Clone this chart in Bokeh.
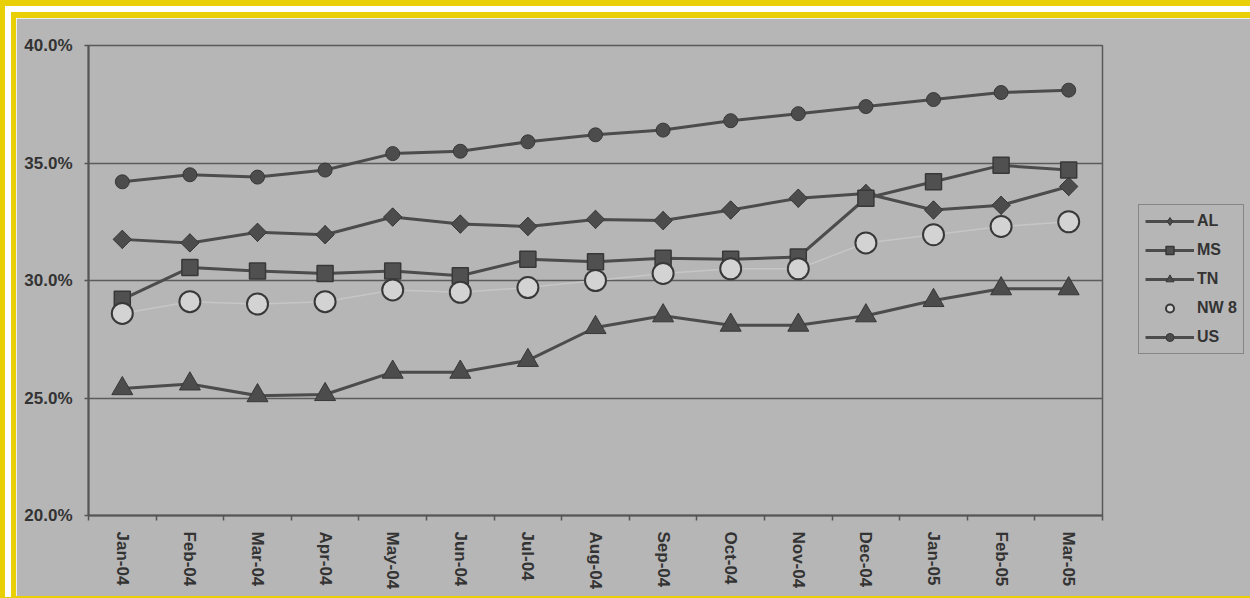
import math
from bokeh.plotting import figure
from bokeh.models import Range1d, FixedTicker, PrintfTickFormatter, Legend, LegendItem
from bokeh.embed import file_html
from bokeh.resources import INLINE

months = ["Jan-04", "Feb-04", "Mar-04", "Apr-04", "May-04", "Jun-04", "Jul-04", "Aug-04",
          "Sep-04", "Oct-04", "Nov-04", "Dec-04", "Jan-05", "Feb-05", "Mar-05"]
al = [31.75, 31.6, 32.05, 31.95, 32.7, 32.4, 32.3, 32.6, 32.55, 33.0, 33.5, 33.7, 33.0, 33.2, 34.0]
ms = [29.2, 30.55, 30.4, 30.3, 30.4, 30.2, 30.9, 30.8, 30.95, 30.9, 31.0, 33.5, 34.2, 34.9, 34.7]
tn = [25.4, 25.6, 25.1, 25.15, 26.1, 26.1, 26.6, 28.0, 28.5, 28.1, 28.1, 28.5, 29.15, 29.65, 29.65]
nw8 = [28.6, 29.1, 29.0, 29.1, 29.6, 29.5, 29.7, 30.0, 30.3, 30.5, 30.5, 31.6, 31.95, 32.3, 32.5]
us = [34.2, 34.5, 34.4, 34.7, 35.4, 35.5, 35.9, 36.2, 36.4, 36.8, 37.1, 37.4, 37.7, 38.0, 38.1]
y_ticks = [20, 25, 30, 35, 40]

xs = list(range(len(months)))

BG = "#b6b6b6"
DARK = "#4c4c4c"
EDGE = "#383838"
TXT = "#333333"
FONT = "Liberation Sans"

p = figure(frame_width=1014, frame_height=470,
           x_range=Range1d(-0.5, len(months) - 0.5), y_range=Range1d(20, 40),
           output_backend="svg", toolbar_location=None,
           min_border_left=72, min_border_top=27, min_border_bottom=81, min_border_right=148)
p.styles = {"border-style": "double", "border-color": "#e9cf06",
            "border-width": "18px 0px 2px 16px", "background-color": "#ffffff"}
p.background_fill_color = BG
p.border_fill_color = BG
p.outline_line_color = "#5a5a5a"
p.outline_line_width = 1.5

# x axis: labels at month centres, tick marks between months
p.xaxis.ticker = FixedTicker(ticks=xs, minor_ticks=[i - 0.5 for i in range(len(months) + 1)])
p.xaxis.major_label_overrides = {i: m for i, m in enumerate(months)}
p.xaxis.major_label_orientation = "vertical"
p.xaxis.major_tick_line_color = None
p.xaxis.minor_tick_line_color = "#555555"
p.xaxis.minor_tick_line_width = 1.5
p.xaxis.minor_tick_in = 0
p.xaxis.minor_tick_out = 5
p.xaxis.axis_line_color = "#555555"
p.xaxis.axis_line_width = 2
p.xaxis.major_label_text_font = FONT
p.xaxis.major_label_text_font_style = "bold"
p.xaxis.major_label_text_font_size = "17px"
p.xaxis.major_label_text_color = TXT
p.xaxis.major_label_standoff = 10

p.yaxis.ticker = FixedTicker(ticks=y_ticks)
p.yaxis.formatter = PrintfTickFormatter(format="%.1f%%")
p.yaxis.major_tick_in = 0
p.yaxis.major_tick_out = 4
p.yaxis.major_tick_line_color = "#555555"
p.yaxis.major_tick_line_width = 1.5
p.yaxis.minor_tick_line_color = None
p.yaxis.axis_line_color = "#555555"
p.yaxis.axis_line_width = 2
p.yaxis.major_label_text_font = FONT
p.yaxis.major_label_text_font_style = "bold"
p.yaxis.major_label_text_font_size = "17px"
p.yaxis.major_label_text_color = TXT
p.yaxis.major_label_standoff = 12

p.xgrid.grid_line_color = None
p.ygrid.ticker = FixedTicker(ticks=y_ticks)
p.ygrid.grid_line_color = "#5c5c5c"
p.ygrid.grid_line_width = 1.5

# series
l_al = p.line(xs, al, line_color=DARK, line_width=3)
d_al = p.scatter(xs, al, marker="diamond", size=18, fill_color=DARK, line_color=EDGE, line_width=1)
s_al = p.scatter(xs, al, marker="square", angle=math.pi / 4, size=13,
                 fill_color=DARK, line_color=EDGE, line_width=1)

l_ms = p.line(xs, ms, line_color=DARK, line_width=3)
s_ms = p.scatter(xs, ms, marker="square", size=16, fill_color="#505050", line_color=EDGE, line_width=1.5)

l_tn = p.line(xs, tn, line_color=DARK, line_width=3)
s_tn = p.scatter(xs, tn, marker="triangle", size=21, fill_color=DARK, line_color=EDGE, line_width=1)

l_nw = p.line(xs, nw8, line_color="#cdcdcd", line_width=1.5, line_alpha=0.7)
s_nw = p.scatter(xs, nw8, marker="circle", size=21, fill_color="#d3d3d3", line_color=EDGE, line_width=2)

l_us = p.line(xs, us, line_color=DARK, line_width=3)
s_us = p.scatter(xs, us, marker="circle", size=14, fill_color=DARK, line_color=EDGE, line_width=1)

legend = Legend(items=[
    LegendItem(label="AL", renderers=[l_al, d_al]),
    LegendItem(label="MS", renderers=[l_ms, s_ms]),
    LegendItem(label="TN", renderers=[l_tn, s_tn]),
    LegendItem(label="NW 8", renderers=[s_nw]),
    LegendItem(label="US", renderers=[l_us, s_us]),
], location=(36, 161))
legend.border_line_color = "#555555"
legend.border_line_width = 1.5
legend.background_fill_alpha = 0
legend.label_text_font = FONT
legend.label_text_font_style = "bold"
legend.label_text_font_size = "16px"
legend.label_text_color = TXT
legend.glyph_width = 49
legend.glyph_height = 20
legend.spacing = 9
legend.padding = 6
legend.margin = 0
legend.label_standoff = 3
p.add_layout(legend, "right")

open("out.html", "w").write(file_html(p, INLINE))
